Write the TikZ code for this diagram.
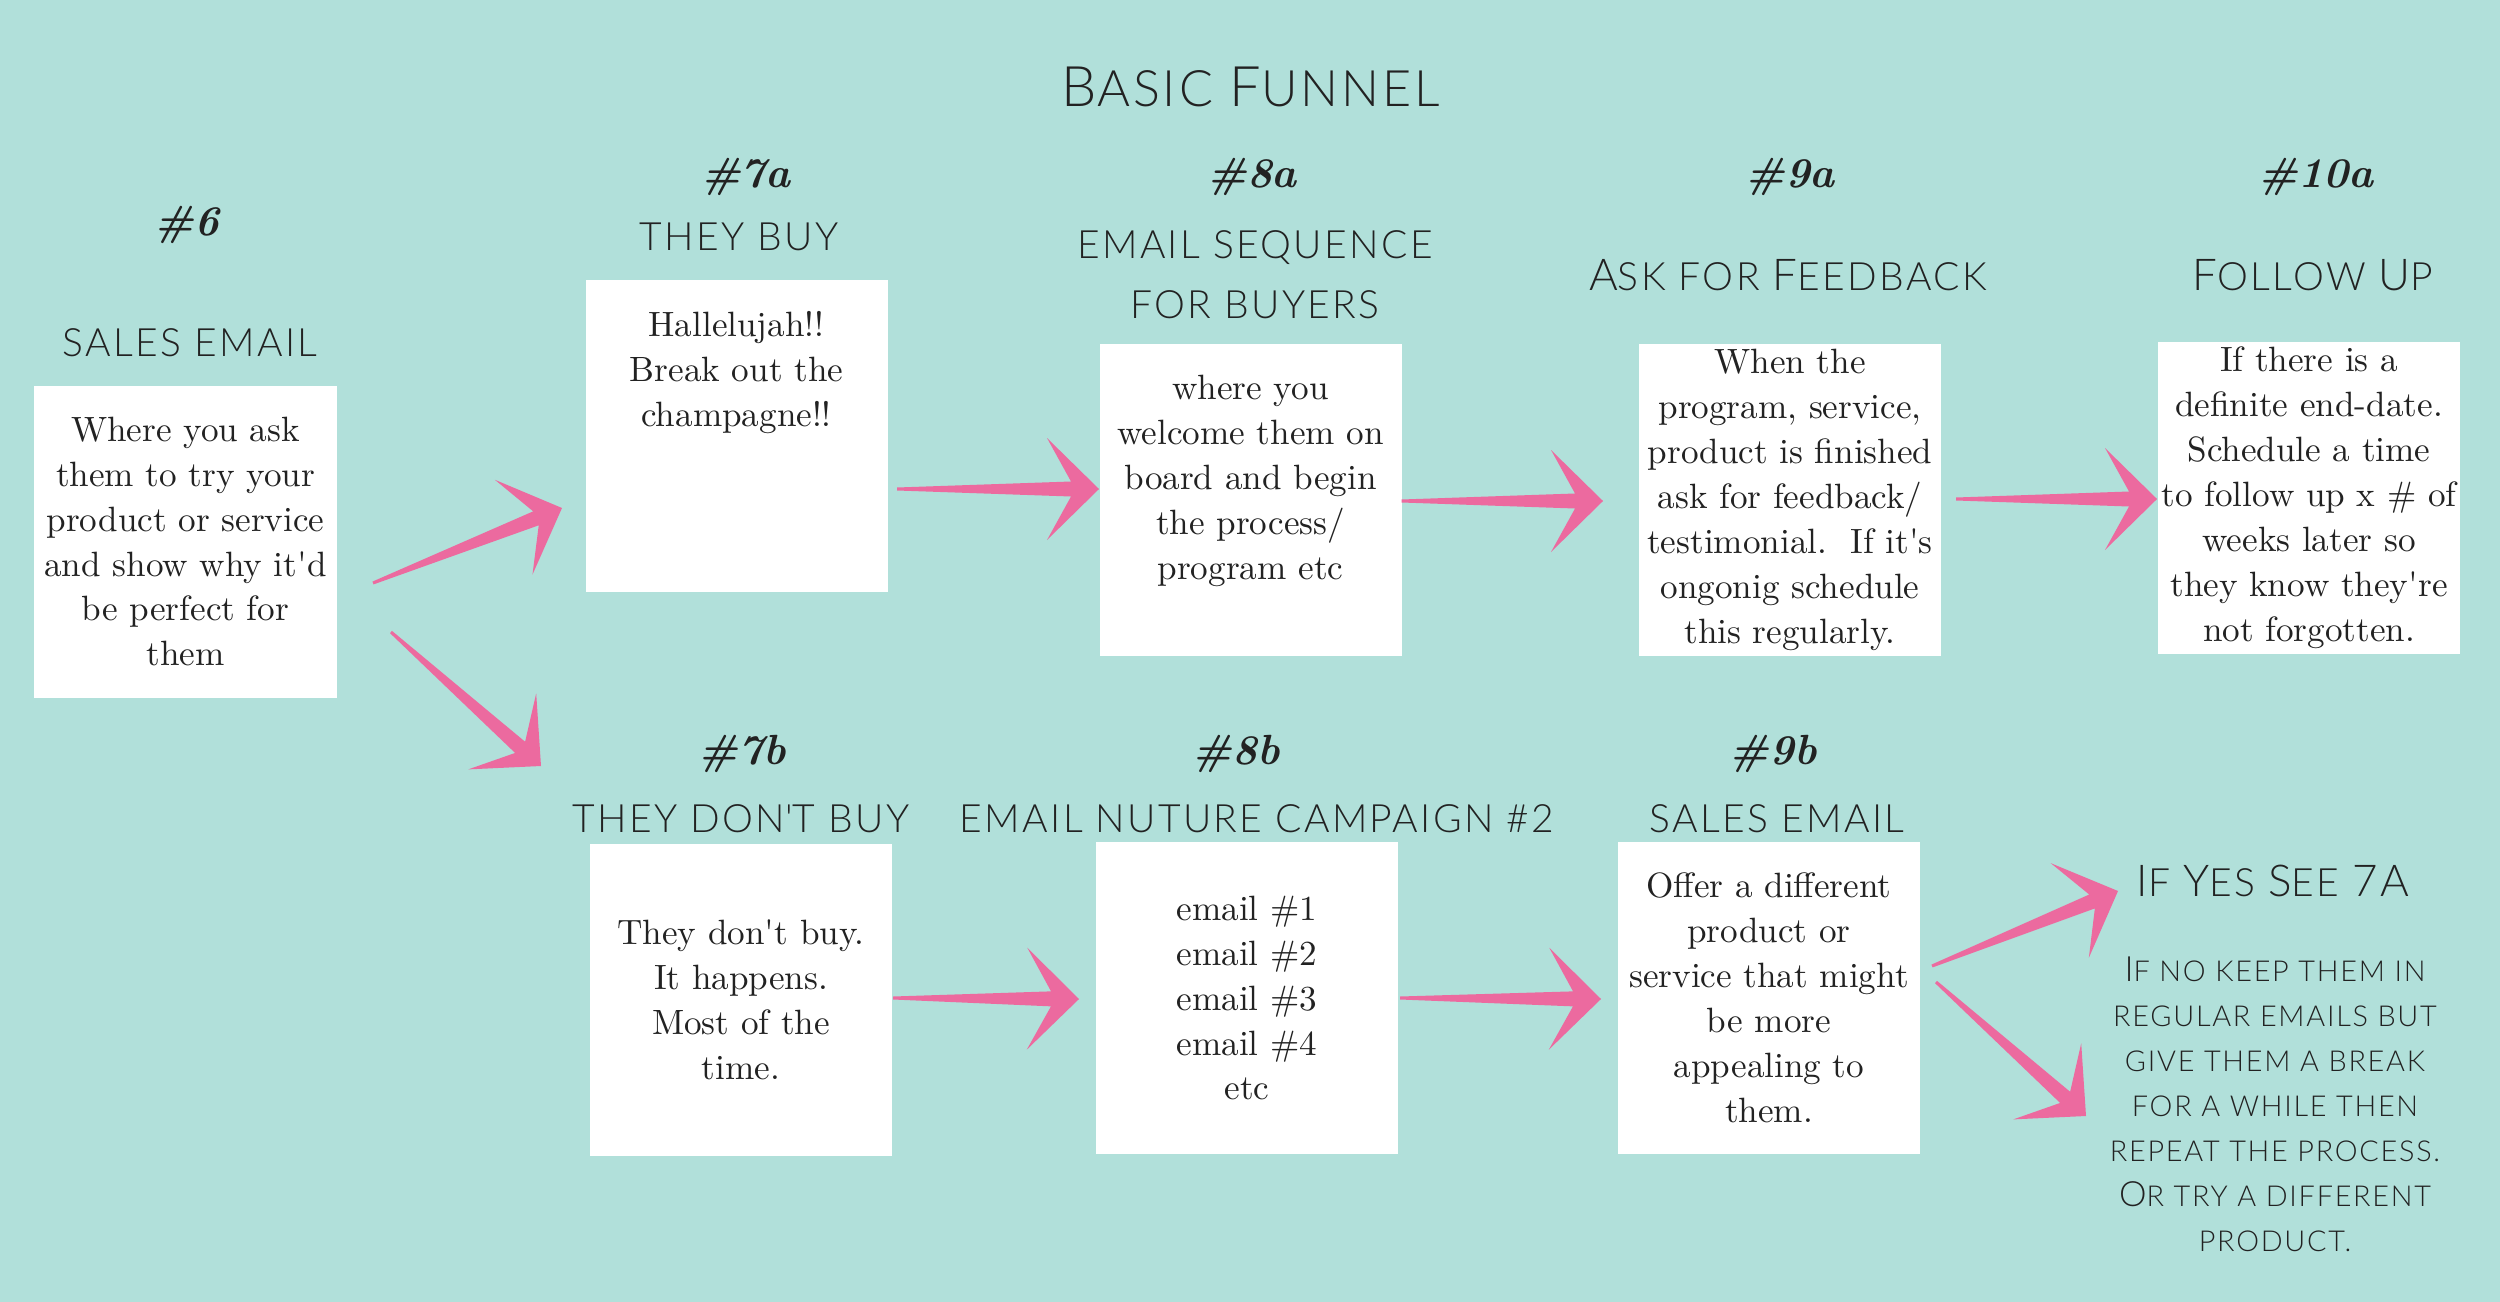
\documentclass[tikz,border=0pt]{standalone}
\usepackage{fontspec}
\IfFontExistsTF{Lato Light}
  {\newfontfamily\headfont{Lato Light}[LetterSpace=6]}
  {\newfontfamily\headfont{Lato}[LetterSpace=6]}
\usetikzlibrary{calc}
\definecolor{fnlbg}{HTML}{B1E0DA}
\definecolor{fnlpink}{HTML}{EC6A9F}
\definecolor{fnlink}{HTML}{222222}
% big initials for the small-cap headings
\newcommand{\bc}[1]{{\fontsize{12.5}{14}\selectfont #1}}
\newcommand{\pc}[1]{{\fontsize{9.9}{12.8}\selectfont #1}}
% tapered pink arrow from tail #1 to tip #2
\newcommand{\swoosh}[2]{%
  \coordinate (sw-j) at ($(#2)!0.28cm!(#1)$);
  \coordinate (sw-k) at ($(#2)!0.52cm!(#1)$);
  \fill[fnlpink] ($(#1)!0.015cm!90:(#2)$) -- ($(sw-j)!0.075cm!90:(#2)$)
    -- ($(sw-k)!0.51cm!90:(#2)$) -- (#2) -- ($(sw-k)!0.51cm!-90:(#2)$)
    -- ($(sw-j)!0.075cm!-90:(#2)$) -- ($(#1)!0.015cm!-90:(#2)$) -- cycle;}

\begin{document}
\begin{tikzpicture}[
  fnlbox/.style={fill=white, minimum width=3.02cm, minimum height=3.12cm,
    inner sep=0pt, align=center, text=fnlink,
    font=\fontsize{10}{12.8}\selectfont},
  fnlhead/.style={anchor=base, inner sep=0pt, text=fnlink,
    font=\headfont\fontsize{11.1}{17}\selectfont},
  fnlnum/.style={anchor=base, inner sep=0pt, text=fnlink,
    font=\fontsize{12}{14}\selectfont\bfseries\itshape}]
  \useasboundingbox (0,0) rectangle (25,-13.02);
  \fill[fnlbg] (0,0) rectangle (25,-13.02);
  \node[fnlhead, font=\headfont\fontsize{14.3}{17}\selectfont] (title)
    at (12.51,-1.07) {{\fontsize{15.9}{17}\selectfont B}ASIC
    {\fontsize{15.9}{17}\selectfont F}UNNEL};

  % top row
  \node[fnlnum] (n6) at (1.87,-2.36) {\#6};
  \node[fnlhead] (h6) at (1.90,-3.56) {SALES EMAIL};
  \node[fnlbox] (b6) at (1.855,-5.415) {Where you ask\\them to try your\\
    product or service\\and show why it\textquotesingle d\\be perfect for\\them};
  \node[fnlnum] (n7a) at (7.46,-1.88) {\#7a};
  \node[fnlhead] (h7a) at (7.39,-2.50) {THEY BUY};
  \node[fnlbox] (b7a) at (7.365,-4.36) {Hallelujah!!\\Break out the\\
    champagne!!\\\mbox{}\\\mbox{}\\\mbox{}};
  \node[fnlnum] (n8a) at (12.52,-1.88) {\#8a};
  \node[fnlhead] (h8a) at (12.55,-2.59) {EMAIL SEQUENCE};
  \node[fnlhead] (h8a-2) at (12.55,-3.19) {FOR BUYERS};
  \node[fnlbox] (b8a) at (12.505,-5.00) {where you\\welcome them on\\
    board and begin\\the process/\\program etc\\\mbox{}};
  \node[fnlnum] (n9a) at (17.90,-1.88) {\#9a};
  \node[fnlhead] (h9a) at (17.88,-2.90) {\bc{A}SK FOR \bc{F}EEDBACK};
  \node[fnlbox] (b9a) at (17.90,-5.00) {When the\\program, service,\\
    product is finished\\ask for feedback/\\testimonial.\ \ If it\textquotesingle s\\
    ongonig schedule\\this regularly.};
  \node[fnlnum] (n10a) at (23.16,-1.88) {\#10a};
  \node[fnlhead] (h10a) at (23.13,-2.90) {\bc{F}OLLOW \bc{U}P};
  \node[fnlbox] (b10a) at (23.09,-4.98) {If there is a\\definite end-date.\\
    Schedule a time\\to follow up x \# of\\weeks later so\\
    they know they\textquotesingle re\\not forgotten.};

  % bottom row
  \node[fnlnum] (n7b) at (7.42,-7.64) {\#7b};
  \node[fnlhead] (h7b) at (7.41,-8.32) {THEY DON\textquotesingle T BUY};
  \node[fnlbox] (b7b) at (7.41,-10.00) {They don\textquotesingle t buy.\\
    It happens.\\Most of the\\time.};
  \node[fnlnum] (n8b) at (12.36,-7.64) {\#8b};
  \node[fnlhead] (h8b) at (12.57,-8.32) {EMAIL NUTURE CAMPAIGN \#2};
  \node[fnlbox] (b8b) at (12.47,-9.98) {email \#1\\email \#2\\email \#3\\
    email \#4\\etc};
  \node[fnlnum] (n9b) at (17.73,-7.64) {\#9b};
  \node[fnlhead] (h9b) at (17.77,-8.32) {SALES EMAIL};
  \node[fnlbox] (b9b) at (17.69,-9.98) {Offer a different\\product or\\
    service that might\\be more\\appealing to\\them.};
  \node[fnlhead] (hyes) at (22.73,-8.96) {\bc{I}F \bc{Y}ES \bc{S}EE \bc{7A}};
  \node[fnlhead, anchor=north, align=center,
    font=\headfont\fontsize{8.2}{12.8}\selectfont] (hno) at (22.75,-9.56)
    {\pc{I}F NO KEEP THEM IN\\REGULAR EMAILS BUT\\GIVE THEM A BREAK\\
    FOR A WHILE THEN\\REPEAT THE PROCESS.\\\pc{O}R TRY A DIFFERENT\\PRODUCT.};

  % arrows
  \coordinate (t1) at (3.73,-5.83);  \coordinate (p1) at (5.62,-5.08);
  \coordinate (t2) at (3.91,-6.32);  \coordinate (p2) at (5.41,-7.66);
  \coordinate (t3) at (8.97,-4.89);  \coordinate (p3) at (10.99,-4.89);
  \coordinate (t4) at (14.015,-5.01); \coordinate (p4) at (16.03,-5.01);
  \coordinate (t5) at (19.56,-4.99); \coordinate (p5) at (21.57,-4.99);
  \coordinate (t6) at (8.93,-9.98);  \coordinate (p6) at (10.79,-9.99);
  \coordinate (t7) at (14.00,-9.98); \coordinate (p7) at (16.01,-9.99);
  \coordinate (t8) at (19.32,-9.66); \coordinate (p8) at (21.18,-8.91);
  \coordinate (t9) at (19.36,-9.82); \coordinate (p9) at (20.86,-11.16);
  \foreach \i in {1,...,9} {\swoosh{t\i}{p\i}}
\end{tikzpicture}
\end{document}
